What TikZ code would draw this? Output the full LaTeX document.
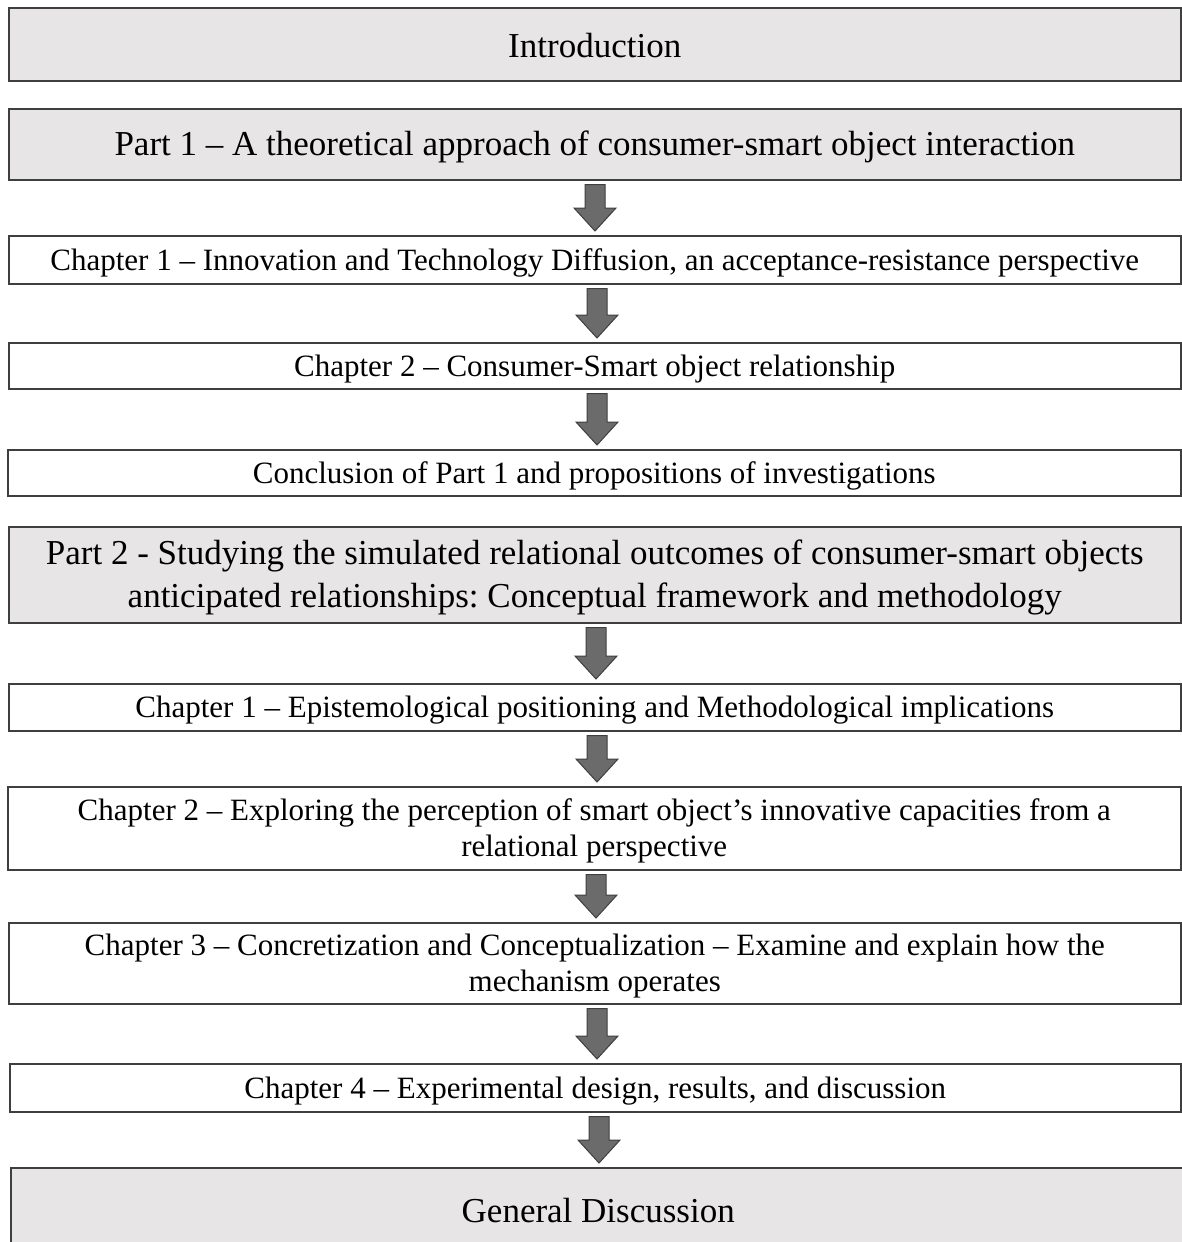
\documentclass[tikz,border=0pt]{standalone}
\usepackage{fontspec}
\setmainfont{Liberation Serif}
\usetikzlibrary{calc}
\definecolor{boxgray}{HTML}{E7E5E6}
\definecolor{linegray}{HTML}{3F3F3F}
\definecolor{arrowfill}{HTML}{6B6B6B}
\frenchspacing
\newcommand{\stS}{\rule{0pt}{28pt}}
\newcommand{\stB}{\rule{0pt}{30pt}}
\tikzset{
  box/.style={draw=linegray, line width=1.5pt, rectangle, inner sep=0pt, anchor=north west, align=center},
  graybox/.style={box, fill=boxgray},
  whitebox/.style={box, fill=white},
  bigtxt/.style={font=\fontsize{35}{43}\selectfont},
  smalltxt/.style={font=\fontsize{31}{36}\selectfont},
  blockarrow/.style={fill=arrowfill, draw=linegray, line width=1pt, line join=miter}
}
\newcommand{\blockarrow}[3]{% from node #1 to node #2 at x #3
  \path let \p1=(#1.south), \p2=(#2.north) in
    coordinate (aT) at (#3,\y1-4) coordinate (aB) at (#3,\y2+4);
  \draw[blockarrow] let \p1=(aT), \p2=(aB) in
    (\x1-10,\y1) -- (\x1+10,\y1) -- (\x1+10,\y2+23) -- (\x1+21,\y2+23) -- (\x2,\y2)
    -- (\x1-21,\y2+23) -- (\x1-10,\y2+23) -- cycle;
}
\begin{document}
\begin{tikzpicture}[x=1pt,y=-1pt]
\useasboundingbox (0,0) rectangle (1181,1242);
\fill[white] (0,0) rectangle (1181,1242);
\node[graybox, bigtxt, minimum width=1172pt, minimum height=73pt] (intro) at (8,7) {\rule{0pt}{26pt}Introduction};
\node[graybox, bigtxt, minimum width=1172pt, minimum height=71pt] (p1) at (8,108) {\stB Part 1 -- A theoretical approach of consumer-smart object interaction};
\node[whitebox, smalltxt, minimum width=1172pt, minimum height=48pt] (c1) at (8,235) {\stS Chapter 1 -- Innovation and Technology Diffusion, an acceptance-resistance perspective};
\node[whitebox, smalltxt, minimum width=1172pt, minimum height=46pt] (c2) at (8,342) {\stS Chapter 2 -- Consumer-Smart object relationship};
\node[whitebox, smalltxt, minimum width=1173pt, minimum height=46pt] (con) at (7,449) {\stS Conclusion of Part 1 and propositions of investigations};
\node[graybox, bigtxt, minimum width=1172pt, minimum height=96pt] (p2) at (8,526) {\stB Part 2 - Studying the simulated relational outcomes of consumer-smart objects\\anticipated relationships: Conceptual framework and methodology};
\node[whitebox, smalltxt, minimum width=1172pt, minimum height=47pt] (q1) at (8,683) {\stS Chapter 1 -- Epistemological positioning and Methodological implications};
\node[whitebox, smalltxt, minimum width=1173pt, minimum height=83pt] (q2) at (7,786) {\stS Chapter 2 -- Exploring the perception of smart object’s innovative capacities from a\\relational perspective};
\node[whitebox, smalltxt, minimum width=1172pt, minimum height=81pt] (q3) at (8,922) {\stS Chapter 3 -- Concretization and Conceptualization -- Examine and explain how the\\mechanism operates};
\node[whitebox, smalltxt, minimum width=1171pt, minimum height=48pt] (q4) at (9,1063) {\stS Chapter 4 -- Experimental design, results, and discussion};
\node[graybox, bigtxt, minimum width=1175pt, minimum height=85pt, text depth=0pt] (gd) at (10,1167) {General Discussion};
\blockarrow{p1}{c1}{595}
\blockarrow{c1}{c2}{597}
\blockarrow{c2}{con}{597}
\blockarrow{p2}{q1}{596}
\blockarrow{q1}{q2}{597}
\blockarrow{q2}{q3}{596}
\blockarrow{q3}{q4}{597}
\blockarrow{q4}{gd}{599}
\end{tikzpicture}
\end{document}
